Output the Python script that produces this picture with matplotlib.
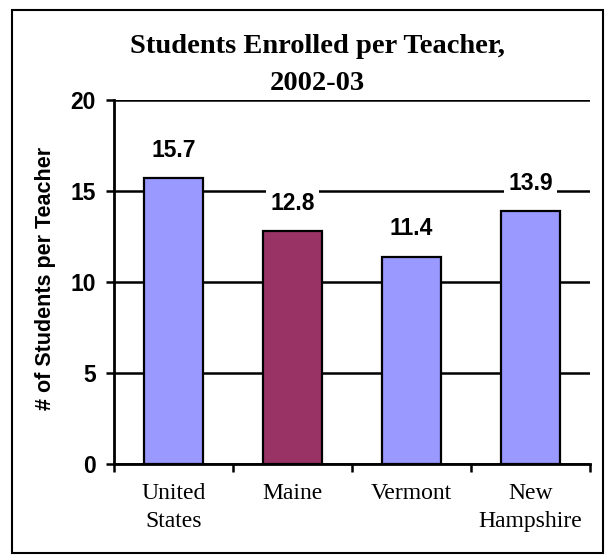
import matplotlib.pyplot as plt
import matplotlib.patches as mpatches

# Students enrolled per teacher, 2002-03
states = ['United\nStates', 'Maine', 'Vermont', 'New\nHampshire']
ratios = [15.7, 12.8, 11.4, 13.9]
bar_colors = ['#9999FF', '#993366', '#9999FF', '#9999FF']
yticks = [0, 5, 10, 15, 20]

fig = plt.figure(figsize=(6.16, 5.59), dpi=100)
ax = fig.add_axes([114/616, 1 - 464/559, (590-114)/616, (464-100)/559])

x = list(range(len(states)))
ax.bar(x, ratios, width=0.5, color=bar_colors, edgecolor='black', linewidth=1.6, zorder=3)

for i in range(len(states)):
    ax.text(x[i], ratios[i] + 0.9, '%.1f' % ratios[i], ha='center', va='bottom',
            fontsize=16.5, fontweight='bold', family='Liberation Sans', zorder=4,
            bbox=dict(facecolor='white', edgecolor='none', pad=3))

ax.set_xlim(-0.5, 3.5)
ax.set_ylim(0, 20)
ax.set_yticks(yticks)
ax.yaxis.grid(True, color='black', linewidth=1.8, zorder=0)
ax.set_xticks([i + 0.5 for i in range(-1, 4)])
ax.set_xticklabels([])
ax.set_xticks(x, minor=True)
ax.set_xticklabels(states, minor=True, family='Liberation Serif', fontsize=17, linespacing=1.4)
ax.tick_params(axis='x', which='minor', length=0, pad=14)
ax.tick_params(axis='x', which='major', direction='out', length=6, width=1.8)
ax.tick_params(axis='y', direction='out', length=6, width=1.8, pad=7)
for lab in ax.get_yticklabels():
    lab.set_family('Liberation Sans')
    lab.set_fontweight('bold')
    lab.set_fontsize(16.5)

ax.spines['top'].set_visible(False)
ax.spines['right'].set_visible(False)
ax.spines['left'].set_linewidth(2)
ax.spines['bottom'].set_linewidth(2)

ax.set_ylabel('# of Students per Teacher', family='Liberation Sans', fontweight='bold',
              fontsize=15.5, va='center')
ax.yaxis.set_label_coords(-(114 - 46)/476, (464 - 278)/364)

fig.text(317/616, 1 - 65/559, 'Students Enrolled per Teacher,\n2002-03', ha='center', va='center',
         family='Liberation Serif', fontweight='bold', fontsize=20.5, linespacing=1.65)

fig.patches.append(mpatches.Rectangle((12/616, 1 - 553/559), 591/616, 543/559, transform=fig.transFigure,
                                      fill=False, edgecolor='black', linewidth=1.5))

fig.savefig('out.png', dpi=100)
